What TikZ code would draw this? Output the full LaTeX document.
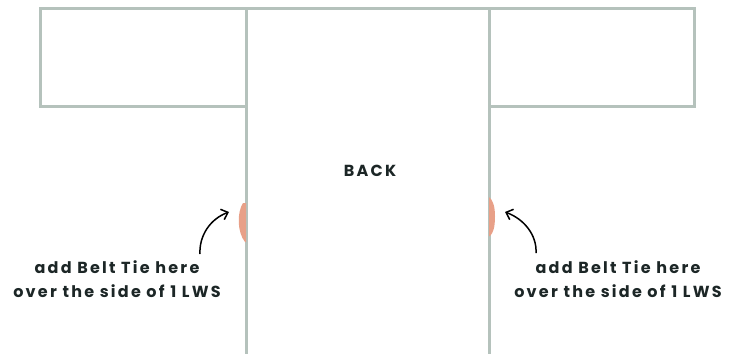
\documentclass[tikz,border=0pt]{standalone}
\usepackage{fontspec}
\setmainfont{Poppins}[LetterSpace=14]
\usetikzlibrary{arrows.meta}
\definecolor{panel}{HTML}{B5C2BC}
\definecolor{tie}{HTML}{E8A088}
\definecolor{ink}{HTML}{1C2626}
\begin{document}
\begin{tikzpicture}[x=1pt,y=-1pt,
  panelline/.style={draw=panel,line width=3pt},
  lbl/.style={font=\bfseries\fontsize{16}{24}\selectfont,text=ink,align=center,inner sep=0pt},
  arr/.style={draw=black,line width=1.5pt,-{Straight Barb[length=6pt,width=11pt]}},
  tiemark/.style={fill=tie,draw=none}]
\useasboundingbox (0,0) rectangle (739,354);
\coordinate (tl) at (40,8);
\coordinate (tr) at (694,8);
\coordinate (cl) at (246,8);
\coordinate (cr) at (489,8);
\coordinate (clb) at (246,354);
\coordinate (crb) at (489,354);
\draw[panelline] (40,8) rectangle (246,106);
\draw[panelline] (489,8) rectangle (694,106);
\draw[panelline] (cl) -- (cr);
\draw[panelline] (cl) -- (clb);
\draw[panelline] (cr) -- (crb);
\node[lbl] (back) at (370,171) {BACK};
\node[lbl] (ltext) at (117,279) {add Belt Tie here\\over the side of 1 LWS};
\node[lbl] (rtext) at (618,279) {add Belt Tie here\\over the side of 1 LWS};
\fill[tiemark] (243,203) .. controls (237,212) and (237,232) .. (245,242) -- (246,242) -- (246,203) -- cycle;
\fill[tiemark] (489,197) .. controls (492,199) and (495,205) .. (495,216) .. controls (495,228) and (493,233) .. (490,236) -- (489,236) -- cycle;
\coordinate (la) at (200,254);
\coordinate (lb) at (229,212);
\coordinate (ra) at (536,253);
\coordinate (rb) at (505,212);
\draw[arr] (la) .. controls (199,236) and (210,219) .. (lb);
\draw[arr] (ra) .. controls (537,235) and (524,219) .. (rb);
\end{tikzpicture}
\end{document}
